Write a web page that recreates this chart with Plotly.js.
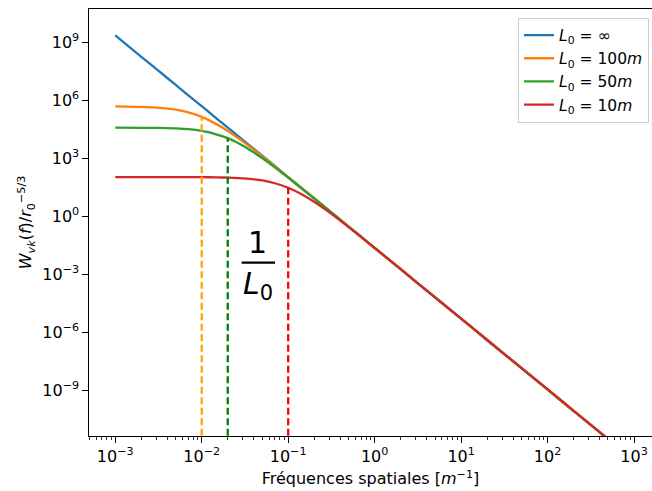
<!DOCTYPE html>
<html>
<head>
<meta charset="utf-8">
<script src="https://cdn.plot.ly/plotly-3.0.1.min.js"></script>
<style>html,body{margin:0;padding:0;background:#fff;}#chart{width:652px;height:491px;}</style>
</head>
<body>
<div id="chart"></div>
<script>
// Spatial frequencies (m^-1)
const freq = [0.001,0.002,0.003,0.005,0.007,0.01,0.015,0.02,0.03,0.05,0.07,0.1,0.15,0.2,0.3,0.5,0.7,1,2,5,10,20,50,100,200,500,1000];
// Spectrum values
const wInf = [2.3e9,1.8e8,4.1e7,6.3e6,1.8e6,5.0e5,1.1e5,3.9e4,8.8e3,1.36e3,4.0e2,1.07e2,24,8.4,1.9,0.29,0.085,0.023,1.8e-3,6.3e-5,5.0e-6,3.9e-7,1.36e-8,1.07e-9,8.4e-11,2.9e-12,2.3e-13];
const w100 = [4.9e5,4.6e5,4.2e5,3.3e5,2.4e5,1.4e5,5.7e4,2.6e4,7.3e3,1.26e3,3.8e2,1.05e2,24,8.4,1.9,0.29,0.085,0.023,1.8e-3,6.3e-5,5.0e-6,3.9e-7,1.36e-8,1.07e-9,8.4e-11,2.9e-12,2.3e-13];
const w50 = [3.9e4,3.8e4,3.75e4,3.5e4,3.2e4,2.6e4,1.7e4,1.1e4,4.5e3,1.03e3,3.4e2,99,23,8.3,1.9,0.29,0.085,0.023,1.8e-3,6.3e-5,5.0e-6,3.9e-7,1.36e-8,1.07e-9,8.4e-11,2.9e-12,2.3e-13];
const w10 = [107,107,107,106,106,105,103,99,91,71,51,30,12.3,5.6,1.57,0.27,0.082,0.0226,1.8e-3,6.3e-5,5.0e-6,3.9e-7,1.36e-8,1.07e-9,8.4e-11,2.9e-12,2.3e-13];

const seriesNames = ['<i>L</i><sub>0</sub> = ∞','<i>L</i><sub>0</sub> = 100<i>m</i>','<i>L</i><sub>0</sub> = 50<i>m</i>','<i>L</i><sub>0</sub> = 10<i>m</i>'];
const seriesColors = ['#1f77b4','#ff7f0e','#2ca02c','#d62728'];
const seriesValues = [wInf, w100, w50, w10];

// Cut-off frequencies 1/L0 and the curve level they reach
const cutFreq = [0.01, 0.02, 0.1];
const cutTop = [1.4e5, 1.1e4, 30];
const cutBottom = 1e-13;
const cutColors = ['#FFA500','#008000','#FF0000'];

// Tick labels
const xTickVals = [1e-3,1e-2,1e-1,1,10,100,1000];
const xTickText = ['10<sup>−3</sup>','10<sup>−2</sup>','10<sup>−1</sup>','10<sup>0</sup>','10<sup>1</sup>','10<sup>2</sup>','10<sup>3</sup>'];
const yTickVals = [1e-9,1e-6,1e-3,1,1e3,1e6,1e9];
const yTickText = ['10<sup>−9</sup>','10<sup>−6</sup>','10<sup>−3</sup>','10<sup>0</sup>','10<sup>3</sup>','10<sup>6</sup>','10<sup>9</sup>'];

const traces = [];
seriesValues.forEach((v,i)=>{
  traces.push({x: freq, y: v, type:'scatter', mode:'lines', name: seriesNames[i],
    legendgroup: 'g'+i,
    line:{color: seriesColors[i], width:2.3, shape:'spline', smoothing:0.6}});
});
cutFreq.forEach((f,i)=>{
  traces.push({x:[f,f], y:[cutBottom, cutTop[i]], type:'scatter', mode:'lines', showlegend:false,
    line:{color: cutColors[i], width:2.3, dash:'7px,3.5px'}});
});

const FS = 16;
const font = {family:'DejaVu Sans', size:FS, color:'#000'};
const layout = {
  width:652, height:491,
  margin:{l:89, r:0, t:9, b:55},
  paper_bgcolor:'#fff', plot_bgcolor:'#fff',
  font: font,
  showlegend:true,
  legend:{x:0.9947, xanchor:'right', y:0.98, yanchor:'top',
    bordercolor:'#cccccc', borderwidth:1, bgcolor:'rgba(255,255,255,0.8)',
    font:{family:'DejaVu Sans', size:15.5, color:'#000'}, tracegroupgap:0},
  xaxis:{type:'log', range:[-3.304, 3.208], showgrid:false, zeroline:false,
    showline:true, linecolor:'#000', linewidth:1, mirror:true,
    ticks:'outside', ticklen:5.6, tickwidth:1, tickcolor:'#000',
    tickmode:'array', tickvals:xTickVals, ticktext:xTickText,
    minor:{ticks:'outside', ticklen:3, tickwidth:0.8, tickcolor:'#000', dtick:'D1', showgrid:false},
    tickfont:font,
    title:{text:'Fréquences spatiales [<i>m</i><sup>−1</sup>]', font:font, standoff:8}
  },
  yaxis:{type:'log', range:[-11.38, 10.73], showgrid:false, zeroline:false,
    showline:true, linecolor:'#000', linewidth:1, mirror:false,
    ticks:'outside', ticklen:5.6, tickwidth:1, tickcolor:'#000',
    tickmode:'array', tickvals:yTickVals, ticktext:yTickText,
    tickfont:font,
    title:{text:'<i>W</i><sub><i>vk</i></sub>(<i>f</i>)/<i>r</i><sub>0</sub><sup>−5/3</sup>', font:font, standoff:6}
  },
  annotations:[
    {xref:'paper', yref:'paper', x:0.300, y:0.452, text:'1', showarrow:false,
     font:{family:'DejaVu Sans', size:30, color:'#000'}, xanchor:'center', yanchor:'middle'},
    {xref:'paper', yref:'paper', x:0.300, y:0.352, text:'<i>L</i><sub>0</sub>', showarrow:false,
     font:{family:'DejaVu Sans', size:30, color:'#000'}, xanchor:'center', yanchor:'middle'}
  ],
  shapes:[
    {type:'line', xref:'paper', yref:'paper', x0:0.2712, x1:0.3304, y0:0.4059, y1:0.4059,
     line:{color:'#000', width:2.2}}
  ]
};
Plotly.newPlot('chart', traces, layout, {displayModeBar:false, staticPlot:true});
</script>
</body>
</html>
